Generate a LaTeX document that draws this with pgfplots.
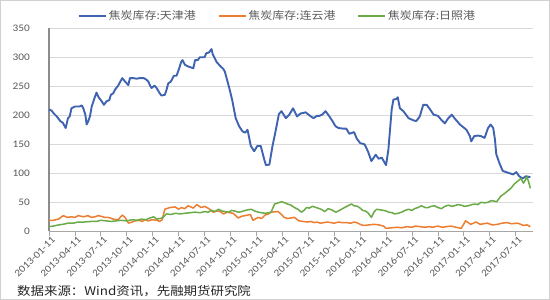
\documentclass[border=0pt]{standalone}
\usepackage{pgfplots}
\pgfplotsset{compat=1.18}
\usepackage{fontspec}
\setmainfont[FakeStretch=1.13]{Carlito}
\newfontfamily\cjk[FakeStretch=1.13]{Noto Sans CJK SC}
\definecolor{cblue}{HTML}{3F63B0}
\definecolor{corange}{HTML}{ED7D31}
\definecolor{cgreen}{HTML}{6AAA47}
\definecolor{gridgray}{HTML}{D9D9D9}
\definecolor{axgray}{HTML}{A6A6A6}
\definecolor{yaxgray}{HTML}{8C8C8C}
\definecolor{txtgray}{HTML}{595959}
\definecolor{framegray}{HTML}{D0D0D0}
\begin{document}
\begin{tikzpicture}
\useasboundingbox (0,0) rectangle (550pt,-300pt);
\draw[framegray, line width=0.8pt] (0.5pt,-0.5pt) rectangle (549.5pt,-299.5pt);
\begin{axis}[
  at={(49pt,-231.3pt)}, anchor=south west, scale only axis,
  width=484pt, height=203.1pt,
  xmin=0, xmax=56, ymin=0, ymax=350,
  axis x line*=bottom, axis y line*=left,
  x axis line style={draw=axgray, line width=1pt, -},
  y axis line style={draw=yaxgray, line width=1.8pt, -},
  ytick={0,50,...,350}, ymajorgrids,
  grid style={draw=gridgray, line width=0.8pt},
  ytick style={draw=none},
  xtick={0,3,...,54},
  xticklabels={2013-01-11,2013-04-11,2013-07-11,2013-10-11,2014-01-11,2014-04-11,2014-07-11,2014-10-11,2015-01-11,2015-04-11,2015-07-11,2015-10-11,2016-01-11,2016-04-11,2016-07-11,2016-10-11,2017-01-11,2017-04-11,2017-07-11},
  xtick style={draw=axgray, line width=0.8pt},
  tick align=outside, major tick length=5pt,
  /pgf/number format/assume math mode=true,
  ticklabel style={font=\fontsize{10}{12}\selectfont, text=txtgray},
  yticklabel style={inner sep=0pt, xshift=-14pt},
  xticklabel style={rotate=45, anchor=north east, inner sep=0pt, xshift=2pt, yshift=-1pt},
  legend style={at={(0.472,1.06)}, anchor=center, draw=none, fill=none,
    legend columns=3, font=\cjk\fontsize{10.6}{12}\selectfont, text=txtgray,
    /tikz/every even column/.append style={column sep=20pt}},
  legend image code/.code={\draw[#1] (0pt,0pt) -- (27pt,0pt);},
  clip=false,
]
\addplot[cblue, line width=1.9pt, line join=round] coordinates {
(0,210)(0.3,208)(0.5,204)(0.9,198)(1.3,190)(1.6,187)(1.93,178)(2.2,195)(2.4,198)(2.6,212)
(3.0,215)(3.5,215)(3.8,217)(3.97,212)(4.2,201)(4.36,184)(4.55,190)(4.74,198)(4.94,215)(5.32,232)
(5.5,239)(5.7,232)(6.1,224)(6.36,218)(6.65,224)(6.98,226)(7.15,235)(7.44,238)(7.63,244)(8.0,251)
(8.25,258)(8.48,264)(8.8,258)(9.18,252)(9.36,264)(9.75,264)(10.13,263)(10.5,264)(10.98,264)(11.3,261)
(11.5,258)(11.7,251)(11.87,247)(12.2,251)(12.45,247)(12.76,239)(13.0,234)(13.4,235)(13.6,244)(13.8,255)
(14.1,258)(14.45,268)(14.75,268)(15.0,278)(15.3,292)(15.45,295)(15.72,287)(16.1,284)(16.5,282)(16.7,281)
(16.9,295)(17.2,295)(17.46,300)(17.85,300)(18.0,300)(18.2,307)(18.5,308)(18.8,314)(18.95,305)(19.38,292)
(19.8,285)(20.16,280)(20.35,275)(20.84,248)(21.2,226)(21.6,195)(22.0,181)(22.4,172)(22.7,170)(22.97,175)
(23.35,147)(23.74,138)(24.1,147)(24.5,147)(24.9,124)(25.1,114)(25.5,115)(25.86,147)(26.25,175)(26.6,202)
(26.9,207)(27.4,195)(27.8,201)(28.24,212)(28.7,198)(29.1,203)(29.7,205)(30.2,199)(30.6,195)(31.0,199)
(31.3,199)(31.6,201)(32.0,207)(32.3,201)(32.8,190)(33.15,181)(33.5,178)(34.0,177)(34.4,177)(34.75,168)
(35.3,171)(35.6,160)(36.0,152)(36.5,150)(36.9,138)(37.3,121)(37.8,132)(38.15,125)(38.5,127)(39.0,114)
(39.27,141)(39.65,210)(39.85,227)(40.2,228)(40.35,231)(40.6,212)(41.0,207)(41.6,195)(42.2,191)(42.5,190)
(42.9,198)(43.3,218)(43.7,218)(44.1,210)(44.5,201)(45.0,199)(45.4,192)(45.8,186)(46.2,195)(46.6,201)
(46.97,194)(47.55,184)(48.3,175)(48.7,164)(48.85,155)(49.2,164)(49.6,165)(50.0,164)(50.4,161)(50.8,178)
(51.1,184)(51.4,178)(51.6,158)(51.75,133)(52.1,118)(52.5,104)(53.1,101)(53.7,98)(54.07,102)(54.4,95)
(54.8,91)(55.2,95)(55.7,93)
};
\addlegendentry{焦炭库存:天津港}
\addplot[corange, line width=1.5pt, line join=round] coordinates {
(0,19)(0.5,19)(1.1,21)(1.65,27)(2.1,24)(2.6,25)(3.0,24)(3.4,27)(4.0,25)(4.5,27)(4.9,24)(5.3,25)
(5.7,27)(6.0,26)(6.4,24)(6.8,24)(7.1,23)(7.4,21)(8.0,20)(8.48,28)(8.8,24)(9.2,14)(9.6,16)(10.0,18)
(10.4,19)(10.8,17)(11.1,20)(11.5,18)(11.9,20)(12.5,19)(12.8,17)(13.1,20)(13.4,38)(14.0,41)(14.6,42)
(15.0,38)(15.3,41)(15.7,39)(16.1,44)(16.7,40)(17.1,46)(17.6,41)(18.0,43)(18.4,40)(19.0,33)(19.4,35)
(19.8,34)(20.2,30)(20.6,33)(21.3,31)(21.9,23)(22.3,26)(22.7,27)(23.3,29)(23.6,19)(24.2,24)(24.6,22)
(25.0,28)(25.4,30)(25.7,33)(26.5,34)(26.9,29)(27.2,24)(27.6,22)(28.0,23)(28.4,24)(28.9,18)(29.4,17)
(29.9,16)(30.3,17)(30.7,15)(31.0,16)(31.4,14)(31.8,15)(32.2,16)(32.6,15)(33.0,14)(33.5,16)(33.9,15)
(34.4,15)(34.9,14)(35.3,16)(35.6,15)(36.0,12)(36.4,10)(37.0,11)(37.6,12)(38.2,11)(38.7,9)(39.0,5)
(39.6,6)(40.3,7)(40.8,6)(41.4,8)(42.0,7)(42.4,9)(42.9,8)(43.5,7)(44.0,8)(44.4,7)(45.0,9)(45.5,7)
(46.0,8)(46.5,9)(47.1,7)(47.7,5)(48.2,18)(48.5,15)(48.8,12)(49.1,14)(49.4,16)(49.9,12)(50.3,13)
(50.7,14)(51.3,11)(51.9,12)(52.4,14)(53.0,15)(53.5,13)(54.2,14)(54.6,12)(54.9,10)(55.3,11)(55.7,8)
};
\addlegendentry{焦炭库存:连云港}
\addplot[cgreen, line width=1.5pt, line join=round] coordinates {
(0,8)(0.5,9)(1.1,11)(1.6,12)(2.2,14)(2.8,14)(3.4,16)(4.0,16)(4.9,17)(5.5,17)(6.0,19)(6.6,18)
(7.2,17)(7.8,18)(8.3,19)(9.0,18)(9.6,20)(10.2,19)(10.7,21)(11.2,20)(11.7,23)(12.1,25)(12.5,21)
(13.1,23)(13.6,30)(14.1,29)(14.6,31)(15.2,30)(15.7,31)(16.3,32)(16.9,33)(17.5,32)(18.0,34)(18.4,33)
(18.8,36)(19.2,34)(19.6,38)(20.0,35)(20.4,34)(20.8,33)(21.1,36)(21.5,35)(21.9,33)(22.3,34)(22.7,36)
(23.0,37)(23.4,38)(23.8,35)(24.2,33)(24.6,32)(25.0,31)(25.4,32)(25.7,33)(26.1,47)(26.5,49)(26.9,51)
(27.3,49)(27.6,47)(28.0,45)(28.4,41)(28.8,38)(29.2,33)(29.5,36)(29.8,41)(30.1,40)(30.5,43)(30.9,41)
(31.3,39)(31.6,37)(31.9,34)(32.3,39)(32.7,37)(33.2,33)(33.6,36)(34.2,41)(34.6,44)(35.0,47)(35.3,44)
(35.7,43)(36.0,40)(36.3,36)(36.6,35)(36.9,32)(37.3,24)(37.6,33)(37.9,38)(38.3,37)(38.7,36)(39.0,35)
(39.3,33)(39.7,32)(40.0,30)(40.4,31)(40.8,33)(41.2,36)(41.6,38)(42.0,36)(42.3,39)(42.7,41)(43.1,44)
(43.5,41)(43.9,41)(44.2,43)(44.6,44)(45.0,41)(45.4,39)(45.8,43)(46.2,45)(46.6,43)(46.9,44)(47.3,46)
(47.7,45)(48.1,43)(48.5,44)(48.9,46)(49.3,47)(49.6,46)(50.0,50)(50.4,49)(50.8,50)(51.2,53)(51.5,52)
(51.8,51)(52.3,61)(52.7,65)(53.1,70)(53.5,75)(53.8,81)(54.2,86)(54.6,91)(54.9,83)(55.1,88)(55.3,94)
(55.5,85)(55.7,74)
};
\addlegendentry{焦炭库存:日照港}
\end{axis}
\node[anchor=west, inner sep=0pt, font=\cjk\fontsize{11.9}{14}\selectfont, text=black!85] at (17pt,-291pt) {数据来源：Wind资讯，先融期货研究院};
\end{tikzpicture}
\end{document}
